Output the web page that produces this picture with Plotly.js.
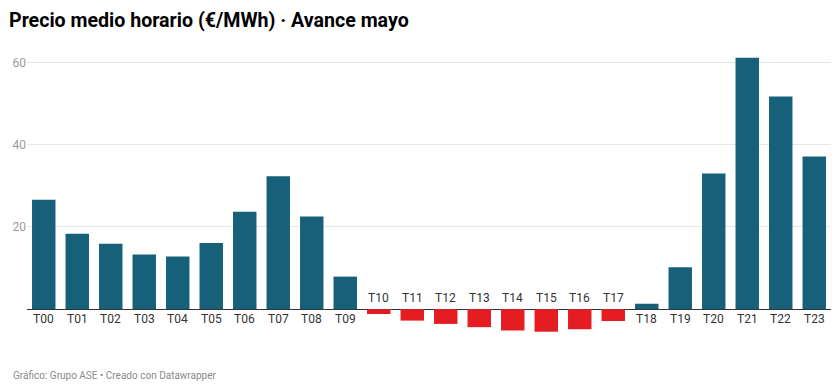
<!DOCTYPE html>
<html>
<head>
<meta charset="utf-8">
<script src="https://cdn.plot.ly/plotly-3.0.1.min.js"></script>
<style>
  html, body { margin: 0; padding: 0; background: #fff; }
  #chart { width: 840px; height: 392px; }
</style>
</head>
<body>
<div id="chart"></div>
<script>
const categories = ["T00","T01","T02","T03","T04","T05","T06","T07","T08","T09","T10","T11",
                    "T12","T13","T14","T15","T16","T17","T18","T19","T20","T21","T22","T23"];
const prices = [26.6, 18.3, 15.9, 13.3, 12.8, 16.1, 23.7, 32.3, 22.5, 7.9, -1.2, -2.8,
                -3.6, -4.4, -5.2, -5.5, -4.9, -2.9, 1.3, 10.2, 33.0, 61.1, 51.7, 37.1];
const yTicks = [20, 40, 60];

const titleText = "Precio medio horario (€/MWh) · Avance mayo";
const footerText = "Gráfico: Grupo ASE • Creado con Datawrapper";

const POS = "#16607a", NEG = "#e31d22";
const FONT = "Roboto, 'Noto Sans', sans-serif";

const trace = {
  type: "bar",
  x: categories,
  y: prices,
  marker: { color: prices.map(v => v >= 0 ? POS : NEG), line: { width: 0 } },
  hoverinfo: "none"
};

const annotations = categories.map((c, i) => ({
  x: c, y: 0, xref: "x", yref: "y",
  text: c, showarrow: false,
  xanchor: "center", yanchor: "middle",
  yshift: prices[i] >= 0 ? -10 : 11,
  font: { family: FONT, size: 12, color: "#333333" }
}));

annotations.push({
  xref: "paper", yref: "paper", x: -16/804, y: -34/292.5,
  xanchor: "left", yanchor: "middle",
  text: footerText, showarrow: false,
  font: { family: FONT, size: 10, color: "#8a8a8a" }
});

const layout = {
  width: 840, height: 392,
  margin: { l: 27, r: 9, t: 50, b: 49.5 },
  paper_bgcolor: "#ffffff", plot_bgcolor: "#ffffff",
  title: {
    text: "<b>" + titleText + "</b>",
    x: 9/840, xanchor: "left", xref: "container",
    y: 1 - 20/392, yanchor: "middle", yref: "container",
    font: { family: FONT, size: 19.6, color: "#000000" }
  },
  showlegend: false,
  bargap: 0.3,
  xaxis: {
    type: "category",
    showticklabels: false, showgrid: false, zeroline: false, showline: false,
    ticks: "", fixedrange: true
  },
  yaxis: {
    range: [-8, 63],
    tickvals: yTicks, ticktext: yTicks.map(String),
    showgrid: true, gridcolor: "#e6e6e6", gridwidth: 1,
    zeroline: true, zerolinecolor: "#333333", zerolinewidth: 1.2,
    showline: false, ticks: "",
    tickfont: { family: FONT, size: 12, color: "#9a9a9a" },
    fixedrange: true
  },
  annotations: annotations
};

Plotly.newPlot("chart", [trace], layout, { staticPlot: true, displayModeBar: false });
</script>
</body>
</html>
